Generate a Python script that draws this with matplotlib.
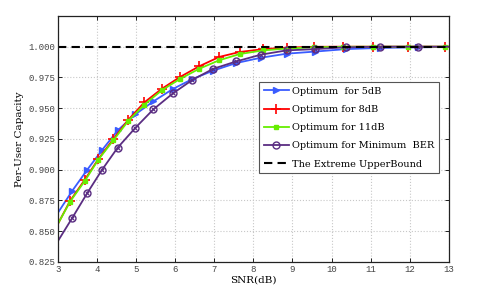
import numpy as np
import matplotlib
matplotlib.use('Agg')
import matplotlib.pyplot as plt
from matplotlib.ticker import FormatStrFormatter

### DATA

snr_a = [3.0, 3.31, 3.69, 4.03, 4.42, 4.80, 5.21, 5.65, 6.12, 6.61, 7.13, 7.65, 8.25, 8.86, 9.55, 10.30, 11.07, 11.95, 12.91, 13.0]
cap_8db = [0.856, 0.8746, 0.892, 0.9085, 0.925, 0.9406, 0.9547, 0.9656, 0.9753, 0.984, 0.9917, 0.9957, 0.998, 0.9993, 0.9999, 1.0, 1.0, 1.0, 1.0, 1.0]
cap_11db = [0.856, 0.874, 0.891, 0.908, 0.924, 0.9397, 0.9528, 0.9644, 0.9737, 0.982, 0.989, 0.994, 0.997, 0.9985, 0.9995, 0.9999, 1.0, 1.0, 1.0, 1.0]

snr_b = [3.0, 3.37, 3.75, 4.13, 4.53, 4.98, 5.44, 5.94, 6.44, 6.97, 7.56, 8.19, 8.85, 9.57, 10.36, 11.23, 12.21, 13.0]
cap_5db = [0.865, 0.883, 0.900, 0.916, 0.932, 0.945, 0.9555, 0.9656, 0.9737, 0.9805, 0.9867, 0.991, 0.9943, 0.996, 0.998, 0.999, 0.9995, 0.9998]
cap_minber = [0.842, 0.861, 0.881, 0.900, 0.918, 0.934, 0.949, 0.962, 0.973, 0.982, 0.988, 0.9935, 0.997, 0.998, 0.9995, 1.0, 1.0, 1.0]

upper_bound = 1.0

### CHART

fig = plt.figure(figsize=(4.91, 2.95), dpi=100)
ax = fig.add_axes([0.118, 0.112, 0.796, 0.834])

mk_a = list(range(1, len(snr_a) - 1))
mk_b = list(range(1, len(snr_b) - 1))

ax.plot(snr_b, cap_5db, color='#3a5cff', lw=1.3, marker='>', ms=4.5, markevery=mk_b, label='Optimum  for 5dB')
ax.plot(snr_a, cap_8db, color='#ff0000', lw=1.3, marker='+', ms=7, mew=1.2, markevery=mk_a, label='Optimum for 8dB')
ax.plot(snr_a, cap_11db, color='#66ee00', lw=1.3, marker='s', ms=3, markevery=mk_a, label='Optimum for 11dB')
ax.plot(snr_b, cap_minber, color='#5a2d82', lw=1.3, marker='o', ms=5, mfc='none', mew=1.0, markevery=mk_b, label='Optimum for Minimum  BER')
ax.plot(snr_b, cap_minber, color='#5a2d82', lw=0, marker='x', ms=3, mew=0.8, markevery=mk_b)  # cross inside the circles
ax.axhline(upper_bound, color='black', ls='--', lw=1.5, dashes=(4, 2.5), label='The Extreme UpperBound')

ax.set_xlim(3, 13)
ax.set_ylim(0.825, 1.025)
ax.set_xticks(np.arange(3, 14, 1))
ax.set_yticks(np.arange(0.825, 1.0001, 0.025))
ax.yaxis.set_major_formatter(FormatStrFormatter('%.3f'))
ax.grid(True, color='#c8c8c8', ls=':', lw=0.8)
ax.tick_params(direction='in', top=True, right=True, length=3, width=0.6, labelsize=6.5, pad=2)
for lab in ax.get_xticklabels() + ax.get_yticklabels():
    lab.set_family('Liberation Mono')
    lab.set_color('#444444')
for s in ax.spines.values():
    s.set_linewidth(0.9)
    s.set_color('#222222')

ax.set_xlabel('SNR(dB)', family='DejaVu Serif', fontsize=7.5, labelpad=1)
ax.set_ylabel('Per-User Capacity', family='DejaVu Serif', fontsize=7.5, labelpad=3)

leg = ax.legend(loc='upper right', bbox_to_anchor=(0.987, 0.752), prop={'family': 'DejaVu Serif', 'size': 7},
                fancybox=False, edgecolor='#555555', framealpha=1, handlelength=2.6, handletextpad=0.3,
                labelspacing=0.95, borderpad=0.5)
leg.get_frame().set_linewidth(0.8)

fig.savefig('out.png', dpi=100)
